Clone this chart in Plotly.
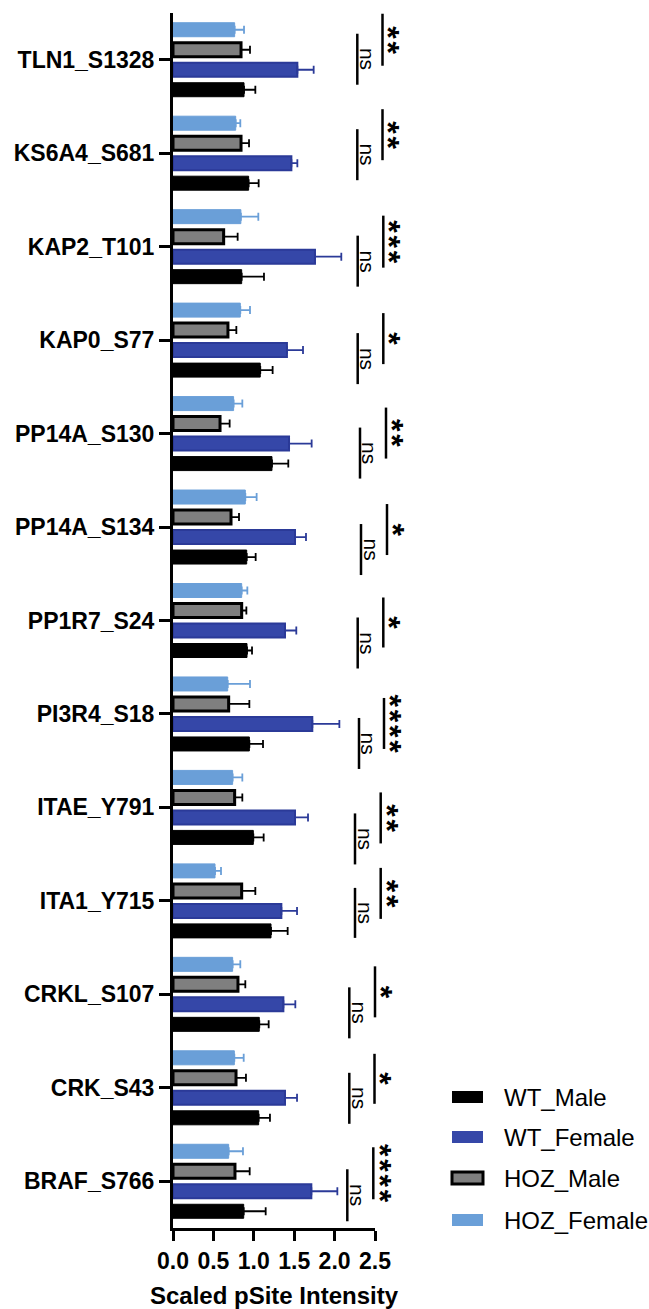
import plotly.graph_objects as go

# ---------------- data ----------------
categories = ["TLN1_S1328", "KS6A4_S681", "KAP2_T101", "KAP0_S77", "PP14A_S130",
              "PP14A_S134", "PP1R7_S24", "PI3R4_S18", "ITAE_Y791", "ITA1_Y715",
              "CRKL_S107", "CRK_S43", "BRAF_S766"]

wt_male = [0.879, 0.936, 0.85, 1.08, 1.225, 0.912, 0.916, 0.945, 0.994, 1.213, 1.068, 1.06, 0.875]
wt_male_err = [0.14, 0.124, 0.276, 0.153, 0.202, 0.111, 0.062, 0.169, 0.128, 0.206, 0.116, 0.14, 0.272]

wt_female = [1.539, 1.465, 1.757, 1.41, 1.436, 1.51, 1.386, 1.724, 1.51, 1.341, 1.366, 1.386, 1.712]
wt_female_err = [0.202, 0.074, 0.326, 0.199, 0.28, 0.136, 0.14, 0.335, 0.161, 0.194, 0.148, 0.149, 0.322]

hoz_male = [0.842, 0.842, 0.627, 0.68, 0.582, 0.718, 0.85, 0.689, 0.763, 0.85, 0.804, 0.78, 0.767]
hoz_male_err = [0.111, 0.099, 0.173, 0.104, 0.119, 0.099, 0.058, 0.256, 0.095, 0.169, 0.091, 0.123, 0.182]

hoz_female = [0.763, 0.776, 0.84, 0.833, 0.75, 0.895, 0.85, 0.677, 0.738, 0.52, 0.738, 0.759, 0.689]
hoz_female_err = [0.116, 0.057, 0.216, 0.12, 0.108, 0.14, 0.07, 0.276, 0.12, 0.074, 0.095, 0.116, 0.177]

series_names = ["WT_Male", "WT_Female", "HOZ_Male", "HOZ_Female"]
x_ticks = [0.0, 0.5, 1.0, 1.5, 2.0, 2.5]
x_tick_labels = ["0.0", "0.5", "1.0", "1.5", "2.0", "2.5"]

# significance labels per category (ns comparison, star comparison)
ns_labels = ["ns"] * 13
star_counts = [2, 2, 3, 1, 2, 1, 1, 4, 2, 2, 1, 1, 4]

# ---------------- layout geometry (pixels) ----------------
FIG_W, FIG_H = 649, 1309
L, R, T, B = 173, 274, 13, 81
PW, PH = FIG_W - L - R, FIG_H - T - B


def px_x(xp):
    return (xp - L) / PW


def px_y(yp):
    return (FIG_H - B - yp) / PH


def cat_center_px(i):
    return T + (i + 0.5) * PH / len(categories)


# bracket placement: (ns line x, ns top offset, ns bottom offset, star line x, star top, star bottom)
brackets = [
    (357.3, -26, 25, 382.5, -46, 6),
    (357.3, -24, 27, 382.5, -44, 7),
    (357.7, -11, 40, 383.3, -31, 21),
    (357.7, -7, 44, 383.3, -27, 24),
    (360.0, -6, 45, 386.0, -26, 25),
    (361.0, -3, 48, 387.0, -23, 28),
    (357.7, -3, 48, 383.3, -23, 27),
    (359.0, 4, 55, 384.0, -16, 35),
    (355.0, 6, 57, 380.7, -15, 36),
    (355.0, -13, 37, 380.7, -33, 18),
    (349.3, -7, 44, 375.0, -28, 23),
    (349.3, -15, 36, 374.5, -34, 16),
    (347.3, -12, 40, 373.3, -34, 18),
]

FONT = "Liberation Sans, Arial, Helvetica, sans-serif"

colors = {
    "WT_Male": ("#000000", "#000000"),
    "WT_Female": ("#3547A8", "#2B3A98"),
    "HOZ_Male": ("#7F7F7F", "#000000"),
    "HOZ_Female": ("#6A9FD8", "#6A9FD8"),
}
err_colors = {"WT_Male": "#000000", "WT_Female": "#2B3A98", "HOZ_Male": "#000000", "HOZ_Female": "#6A9FD8"}
line_widths = {"WT_Male": 1, "WT_Female": 2, "HOZ_Male": 3, "HOZ_Female": 1}

vals = [wt_male, wt_female, hoz_male, hoz_female]
errs = [wt_male_err, wt_female_err, hoz_male_err, hoz_female_err]

fig = go.Figure()
for name, v, e in zip(series_names, vals, errs):
    fill, edge = colors[name]
    fig.add_trace(go.Bar(
        y=categories, x=v, orientation="h", name=name,
        marker=dict(color=fill, line=dict(color=edge, width=line_widths[name])),
        error_x=dict(type="data", array=e, symmetric=False, arrayminus=[0] * len(e),
                     color=err_colors[name], thickness=1.8, width=4),
        showlegend=False,
    ))

shapes = []
annotations = []
STAR_GAP = '<span style="font-size:10px"> </span>'

# significance brackets
for i, (nsx, nst, nsb, stx, stt, stb) in enumerate(brackets):
    cy = cat_center_px(i)
    shapes.append(dict(type="line", xref="paper", yref="paper",
                       x0=px_x(nsx), x1=px_x(nsx), y0=px_y(cy + nst), y1=px_y(cy + nsb),
                       line=dict(color="black", width=2.5)))
    shapes.append(dict(type="line", xref="paper", yref="paper",
                       x0=px_x(stx), x1=px_x(stx), y0=px_y(cy + stt), y1=px_y(cy + stb),
                       line=dict(color="black", width=2.5)))
    annotations.append(dict(xref="paper", yref="paper", x=px_x(nsx + 10), y=px_y(cy + (nst + nsb) / 2),
                            text=ns_labels[i], textangle=90, showarrow=False,
                            xanchor="center", yanchor="middle",
                            font=dict(family=FONT, size=21, color="black")))
    annotations.append(dict(xref="paper", yref="paper", x=px_x(stx + 6), y=px_y(cy + (stt + stb) / 2),
                            text=STAR_GAP.join(["*"] * star_counts[i]), textangle=90, showarrow=False,
                            xanchor="center", yanchor="middle",
                            font=dict(family=FONT, size=32, color="black", weight="bold")))

# manual legend
legend_y = [1097, 1137, 1178, 1220]
for name, ly in zip(series_names, legend_y):
    fill, edge = colors[name]
    lw = 3 if name == "HOZ_Male" else 0
    shapes.append(dict(type="rect", xref="paper", yref="paper",
                       x0=px_x(452), x1=px_x(483), y0=px_y(ly + 6), y1=px_y(ly - 6),
                       fillcolor=fill, line=dict(color=edge, width=lw)))
    annotations.append(dict(xref="paper", yref="paper", x=px_x(502), y=px_y(ly),
                            text=name, showarrow=False, xanchor="left", yanchor="middle",
                            font=dict(family=FONT, size=24, color="black")))

fig.update_layout(
    width=FIG_W, height=FIG_H,
    margin=dict(l=L, r=R, t=T, b=B, pad=0, autoexpand=False),
    plot_bgcolor="white", paper_bgcolor="white",
    barmode="group", bargap=0.144, bargroupgap=0.3,
    shapes=shapes, annotations=annotations,
    font=dict(family=FONT, color="black"),
)
fig.update_xaxes(
    range=[0, 2.5], tickvals=x_ticks, ticktext=x_tick_labels,
    showline=True, linecolor="black", linewidth=3, mirror=False,
    ticks="outside", ticklen=10, tickwidth=3, tickcolor="black",
    showgrid=False, zeroline=False, automargin=False,
    tickfont=dict(family=FONT, size=23, color="black", weight="bold"),
    title=dict(text="Scaled pSite Intensity", standoff=16,
               font=dict(family=FONT, size=24, color="black", weight="bold")),
)
fig.update_yaxes(
    categoryorder="array", categoryarray=categories[::-1],
    showline=True, linecolor="black", linewidth=3,
    ticks="outside", ticklen=11, tickwidth=3, tickcolor="black",
    showgrid=False, zeroline=False, automargin=False,
    tickfont=dict(family=FONT, size=23, color="black", weight="bold"),
)

fig.write_html("out.html", config={"displayModeBar": False},
               post_script="document.body.style.margin='0px';")
